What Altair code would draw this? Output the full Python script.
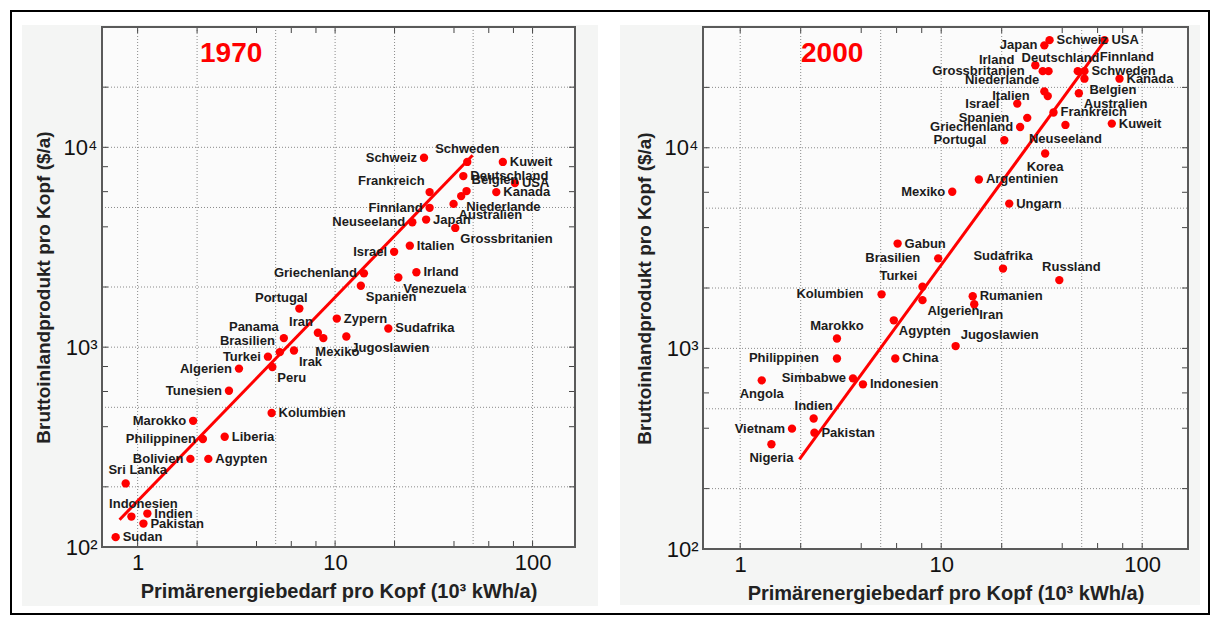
import altair as alt
import pandas as pd

# ---------------- data: 1970 ----------------
COUNTRIES_1970 = ["Schweiz", "Schweden", "Kuweit", "Deutschland", "USA", "Belgien", "Kanada",
                  "Niederlande", "Frankreich", "Australien", "Finnland", "Japan", "Neuseeland",
                  "Grossbritanien", "Italien", "Israel", "Griechenland", "Irland", "Venezuela",
                  "Spanien", "Portugal", "Zypern", "Sudafrika", "Iran", "Mexiko", "Jugoslawien",
                  "Panama", "Brasilien", "Irak", "Turkei", "Peru", "Algerien", "Tunesien",
                  "Kolumbien", "Marokko", "Philippinen", "Liberia", "Bolivien", "Agypten",
                  "Sri Lanka", "Indonesien", "Indien", "Pakistan", "Sudan"]
ENERGY_1970 = [28.2, 46.7, 70.7, 44.6, 81.4, 46.3, 65.5, 43.5, 30.1, 39.8, 30.1, 28.9, 24.6,
               40.6, 23.9, 19.9, 14.0, 25.8, 20.9, 13.5, 6.59, 10.2, 18.6, 8.18, 8.72, 11.4,
               5.5, 5.25, 6.19, 4.57, 4.81, 3.26, 2.90, 4.77, 1.91, 2.14, 2.76, 1.85, 2.28,
               0.87, 0.93, 1.12, 1.07, 0.774]
GDP_1970 = [8870, 8450, 8450, 7180, 6620, 6040, 5970, 5700, 5970, 5210, 4980, 4350, 4220,
            3950, 3220, 3000, 2340, 2370, 2230, 2030, 1560, 1390, 1240, 1180, 1110, 1130,
            1110, 944, 962, 896, 796, 781, 605, 468, 428, 347, 356, 276, 276,
            208, 142, 147, 131, 112]
# side of the point on which each country name is written
SIDE_1970 = ["l", "t", "r", "r", "r", "tr", "r", "br", "tl", "br", "l", "r", "l",
             "br", "r", "l", "l", "r", "br", "br", "T-", "r", "r", "tl", "B+", "br",
             "tl", "tl", "br", "l", "br", "l", "l", "r", "l", "l", "r", "l", "r",
             "T+", "T+", "r", "r", "r"]
FIT_1970_ENERGY = [0.81, 49.7]
FIT_1970_GDP = [137, 9120]

# ---------------- data: 2000 ----------------
COUNTRIES_2000 = ["USA", "Schweiz", "Japan", "Irland", "Grossbritanien", "Deutschland",
                  "Niederlande", "Italien", "Finnland", "Schweden", "Belgien", "Australien",
                  "Kanada", "Frankreich", "Neuseeland", "Kuweit", "Israel", "Spanien",
                  "Griechenland", "Portugal", "Korea", "Argentinien", "Mexiko", "Ungarn",
                  "Gabun", "Brasilien", "Sudafrika", "Russland", "Turkei", "Kolumbien",
                  "Algerien", "Rumanien", "Iran", "Agypten", "Marokko", "Jugoslawien",
                  "Philippinen", "China", "Simbabwe", "Indonesien", "Angola", "Indien",
                  "Vietnam", "Pakistan", "Nigeria"]
ENERGY_2000 = [64.9, 34.6, 32.6, 29.4, 32.0, 34.2, 32.6, 33.9, 47.8, 51.6, 51.6, 48.4,
               77.1, 36.2, 41.5, 70.6, 23.9, 26.8, 24.7, 20.6, 32.9, 15.4, 11.35, 21.8,
               6.07, 9.66, 20.3, 38.7, 8.07, 5.05, 8.07, 14.35, 14.6, 5.81, 3.03, 11.8,
               3.03, 5.91, 3.64, 4.08, 1.28, 2.32, 1.81, 2.34, 1.43]
GDP_2000 = [34400, 34400, 32400, 25800, 24100, 24100, 19100, 18100, 24100, 24100, 22100,
            18700, 22100, 15000, 13000, 13200, 16600, 14100, 12700, 10900, 9370, 6950,
            6040, 5270, 3330, 2810, 2500, 2190, 2030, 1860, 1740, 1820, 1660, 1380, 1120,
            1027, 891, 891, 709, 662, 693, 447, 398, 380, 333]
SIDE_2000 = ["r", "r", "l", "TL", "L", "T+", "tl", "L", "TR", "r", "br", "br", "r", "r",
             "b", "r", "L", "L", "l", "L", "b", "r", "l", "r", "r", "L", "t", "T+", "tl",
             "L", "br", "r", "br", "br", "t", "tr", "L", "r", "l", "r", "b", "t", "l",
             "r", "b"]
FIT_2000_ENERGY = [1.97, 64.9]
FIT_2000_GDP = [280, 34000]

# ---------------- axes ----------------
X_LABEL_VALUES = [1, 10, 100]
Y_LABEL_VALUES = [100, 1000, 10000]
Y_LABEL_TEXT = ["10²", "10³", "10⁴"]
GRID_X = [1, 2, 5, 10, 20, 50, 100]
GRID_Y = [200, 500, 1000, 2000, 5000, 10000, 20000]
TICKS_X = [1, 2, 4, 6, 8, 10, 20, 40, 60, 80, 100]
TICKS_Y = [200, 400, 600, 800, 1000, 2000, 4000, 6000, 8000, 10000, 20000]
X_TITLE = "Primärenergiebedarf pro Kopf  (10³ kWh/a)"
Y_TITLE = "Bruttoinlandprodukt pro Kopf ($/a)"

FONT = "Liberation Sans"
RED = "#ff0000"
TEXT = "#1c1c1c"

# label placement: align, dx, dy
ANCHORS = {
    "r": ("left", 7, 0),
    "l": ("right", -7, 0),
    "L": ("right", -18, 0),
    "TL": ("right", -21, -5),
    "t": ("center", 0, -13),
    "T+": ("center", 12, -13),
    "T-": ("center", -18, -11),
    "b": ("center", 0, 14),
    "B+": ("center", 14, 14),
    "tr": ("left", 5, -11),
    "tl": ("right", -5, -11),
    "br": ("left", 5, 11),
    "bl": ("right", -5, 11),
    "TR": ("left", 22, -14),
}

y_label_expr = " : ".join(
    f"datum.value == {v} ? '{t}'" for v, t in zip(Y_LABEL_VALUES[:-1], Y_LABEL_TEXT[:-1])
) + f" : '{Y_LABEL_TEXT[-1]}'"

AXIS_STYLE = dict(
    labelFont=FONT, labelFontSize=22, labelColor="#111", labelPadding=5,
    titleFont=FONT, titleFontWeight="bold", titleColor="#222",
    ticks=False, domain=False, grid=False, zindex=1, labelOverlap=False, labelFlush=False,
)
X_AXIS = alt.Axis(values=X_LABEL_VALUES, format="d", title=X_TITLE, titleFontSize=20,
                  titlePadding=8, **AXIS_STYLE)
Y_AXIS = alt.Axis(values=Y_LABEL_VALUES, labelExpr=y_label_expr, title=Y_TITLE,
                  titleFontSize=19, titlePadding=10, **AXIS_STYLE)


def panel(year, countries, energy, gdp, sides, fit_e, fit_g, w, h, x_domain, bg, frame=None):
    xs = alt.Scale(type="log", domain=x_domain, nice=False)
    ys = alt.Scale(type="log", domain=[100, 40000], nice=False)
    X = alt.X("e:Q", scale=xs, axis=X_AXIS)
    Y = alt.Y("g:Q", scale=ys, axis=Y_AXIS)
    one = alt.Chart(pd.DataFrame({"k": [0]}))
    pts = pd.DataFrame({"land": countries, "e": energy, "g": gdp, "side": sides})

    layers = []
    if frame is not None:
        layers.append(one.mark_rect(fillOpacity=0, stroke="black", strokeWidth=2).encode(
            x=alt.value(frame[0]), x2=alt.value(frame[1]),
            y=alt.value(frame[2]), y2=alt.value(frame[3])))
    # panel and plot-area backgrounds
    layers.append(one.mark_rect(fill="#f4f5f4").encode(
        x=alt.value(bg[0]), x2=alt.value(bg[1]), y=alt.value(bg[2]), y2=alt.value(bg[3])))
    layers.append(one.mark_rect(fill="#fbfbfb").encode(
        x=alt.value(0), x2=alt.value(w), y=alt.value(0), y2=alt.value(h)))
    # dotted grid
    grid = dict(color="#8a8a8a", strokeDash=[1, 2], strokeWidth=1)
    layers.append(alt.Chart(pd.DataFrame({"e": GRID_X})).mark_rule(**grid).encode(
        x=X, y=alt.value(0), y2=alt.value(h)))
    layers.append(alt.Chart(pd.DataFrame({"g": GRID_Y})).mark_rule(**grid).encode(
        y=Y, x=alt.value(0), x2=alt.value(w)))
    # inward ticks on all four sides
    tick = dict(color="#444444", strokeWidth=1)
    tx = alt.Chart(pd.DataFrame({"e": TICKS_X}))
    ty = alt.Chart(pd.DataFrame({"g": TICKS_Y}))
    layers.append(tx.mark_rule(**tick).encode(x=X, y=alt.value(h), y2=alt.value(h - 6)))
    layers.append(tx.mark_rule(**tick).encode(x=X, y=alt.value(0), y2=alt.value(6)))
    layers.append(ty.mark_rule(**tick).encode(y=Y, x=alt.value(0), x2=alt.value(6)))
    layers.append(ty.mark_rule(**tick).encode(y=Y, x=alt.value(w), x2=alt.value(w - 6)))
    # regression line
    layers.append(alt.Chart(pd.DataFrame({"e": fit_e, "g": fit_g})).mark_line(
        color=RED, strokeWidth=3).encode(x=X, y=Y))
    # countries
    layers.append(alt.Chart(pts).mark_circle(size=70, color=RED, opacity=1).encode(x=X, y=Y))
    for code, (align, dx, dy) in ANCHORS.items():
        layers.append(alt.Chart(pts).transform_filter(alt.datum.side == code).mark_text(
            align=align, baseline="middle", dx=dx, dy=dy, font=FONT, fontSize=13,
            fontWeight="bold", color=TEXT).encode(x=X, y=Y, text="land:N"))
    # year heading and plot frame
    layers.append(one.mark_text(text=year, align="left", baseline="middle", font=FONT,
                                fontSize=28, fontWeight="bold", color=RED).encode(
        x=alt.value(98), y=alt.value(27)))
    layers.append(one.mark_rect(fillOpacity=0, stroke="#5a5a5a", strokeWidth=2).encode(
        x=alt.value(0), x2=alt.value(w), y=alt.value(0), y2=alt.value(h)))
    return alt.layer(*layers).properties(width=w, height=h)


left = panel("1970", COUNTRIES_1970, ENERGY_1970, GDP_1970, SIDE_1970,
             FIT_1970_ENERGY, FIT_1970_GDP, 473, 520, [0.66, 164],
             bg=(-80, 496, -2, 579), frame=(-91, 1107, -16, 587))
right = panel("2000", COUNTRIES_2000, ENERGY_2000, GDP_2000, SIDE_2000,
              FIT_2000_ENERGY, FIT_2000_GDP, 485, 522, [0.653, 169],
              bg=(-83, 497, -2, 578))

chart = alt.hconcat(left, right, spacing=128, bounds="flush").properties(
    padding={"left": 10, "top": 10, "right": 0, "bottom": 0},
    background="white",
).configure_view(stroke=None)

chart.save("out.html", embed_options={"renderer": "svg", "actions": False})
